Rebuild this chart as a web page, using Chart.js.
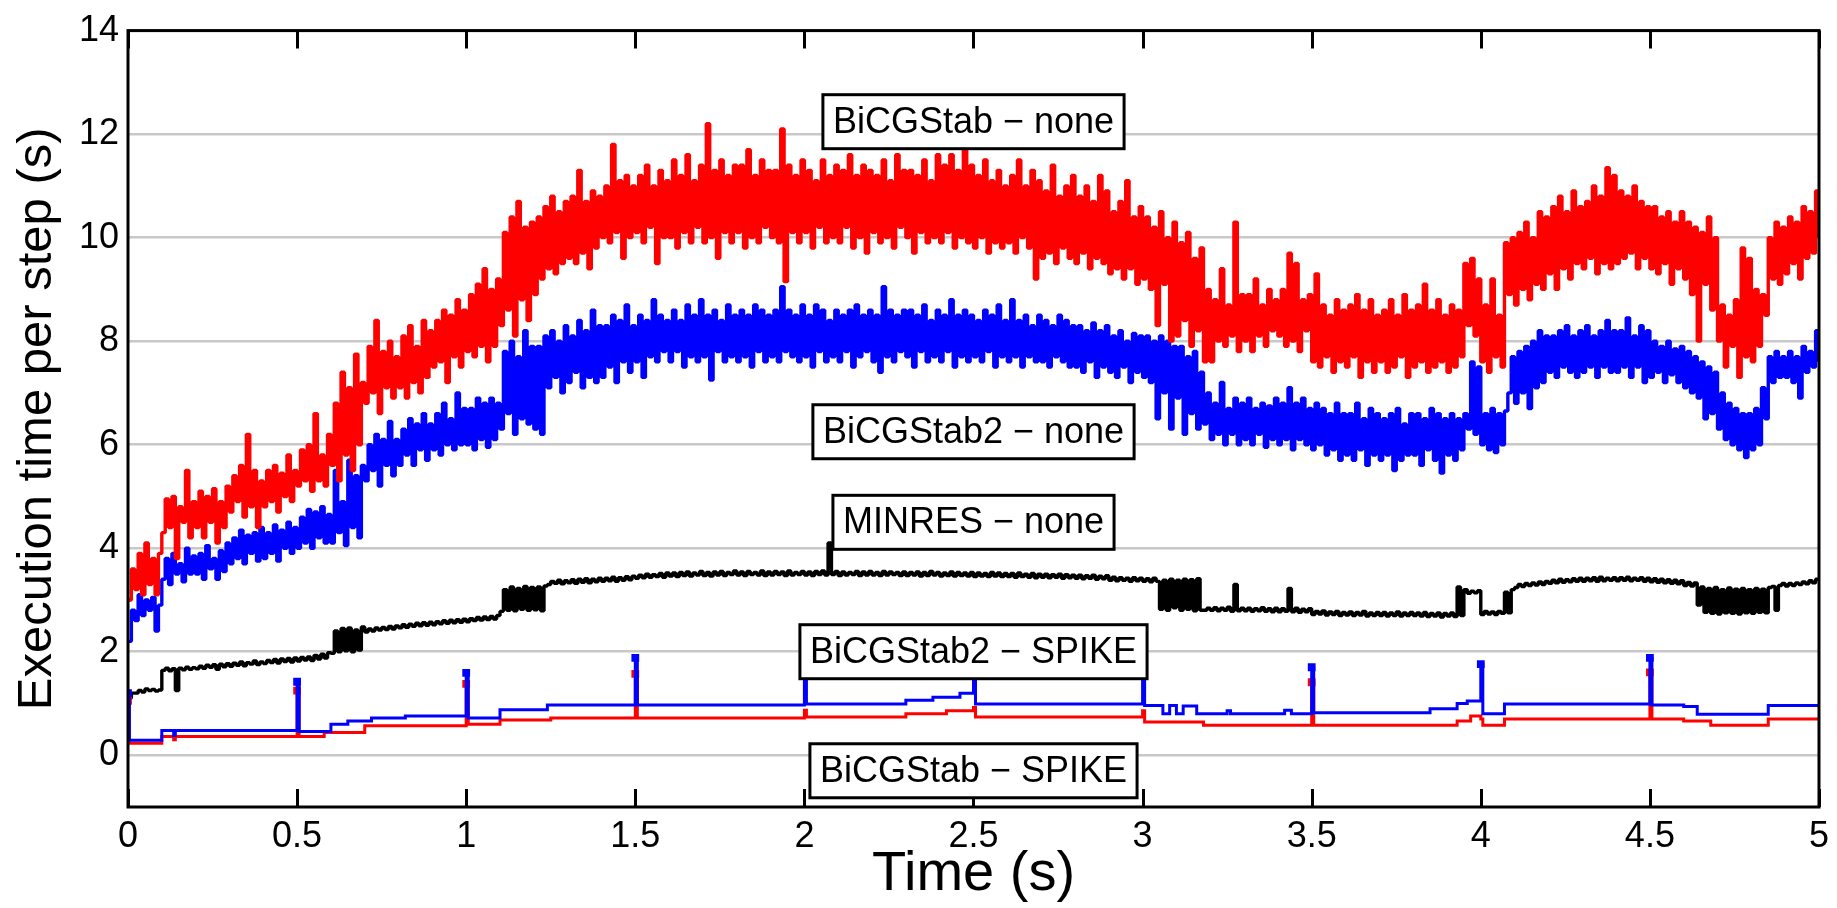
<!DOCTYPE html>
<html>
<head>
<meta charset="utf-8">
<script src="https://cdn.jsdelivr.net/npm/chart.js@4.4.1/dist/chart.umd.min.js"></script>
<style>
  html, body { margin: 0; padding: 0; background: #fff; }
  #wrap { width: 1837px; height: 908px; }
</style>
</head>
<body>
<div id="wrap"><canvas id="timing"></canvas></div>
<script>
// sample spacing of the "none" runs (s)
const DT = 0.01;

// BiCGStab - none : execution time per step (s)
const bicgNone = [
  3.0, 3.6, 3.2, 3.9, 3.1, 4.1, 3.3, 3.8, 3.1, 3.9,
  4.3, 4.95, 4.4, 5.0, 3.8, 4.8, 4.5, 5.5, 4.2, 4.9,
  4.4, 5.1, 4.2, 5.0, 4.5, 5.15, 4.1, 4.9, 4.4, 5.2,
  4.7, 5.4, 4.9, 5.6, 4.6, 6.2, 4.8, 5.5, 4.4, 5.3,
  4.8, 5.5, 4.9, 5.6, 4.7, 5.45, 5.0, 5.8, 4.9, 5.5,
  5.2, 5.9, 5.3, 6.0, 5.1, 6.6, 5.3, 5.8, 5.2, 6.2,
  5.6, 6.8, 5.3, 7.4, 5.8, 7.1, 5.5, 7.75, 6.0, 7.2,
  6.8, 7.9, 7.0, 8.4, 6.6, 7.8, 7.1, 8.0, 6.9, 7.7,
  7.1, 8.1, 6.9, 8.3, 7.2, 7.9, 7.0, 8.4, 7.3, 8.2,
  7.5, 8.4, 7.6, 8.6, 7.2, 8.5, 7.7, 8.8, 7.5, 8.6,
  7.8, 8.9, 7.7, 9.1, 7.9, 9.4, 7.6, 9.0, 7.9, 9.2,
  8.3, 10.1, 8.6, 10.4, 8.1, 10.7, 8.8, 10.2, 8.4, 10.3,
  8.9, 10.4, 9.2, 10.6, 9.4, 10.8, 9.3, 10.5, 9.5, 10.7,
  9.6, 10.8, 9.5, 11.3, 9.7, 10.7, 9.4, 10.9, 9.8, 10.8,
  10.0, 11.0, 9.9, 11.8, 10.1, 11.1, 9.6, 11.2, 10.0, 11.0,
  10.1, 11.2, 9.9, 11.4, 10.2, 11.0, 9.5, 11.3, 10.0, 11.1,
  10.0, 11.5, 9.8, 11.2, 10.1, 11.6, 9.9, 11.1, 10.2, 11.4,
  9.9, 12.2, 10.0, 11.3, 9.6, 11.5, 10.1, 11.2, 9.9, 11.4,
  10.1, 11.4, 9.8, 11.7, 10.0, 11.2, 9.9, 11.5, 10.2, 11.3,
  10.0, 11.3, 9.9, 12.1, 9.15, 11.4, 10.1, 11.2, 9.9, 11.5,
  10.1, 11.3, 9.8, 11.1, 10.2, 11.5, 9.9, 11.2, 10.0, 11.4,
  9.9, 11.3, 10.2, 11.6, 9.8, 11.2, 10.0, 11.4, 9.7, 11.3,
  10.1, 11.2, 9.9, 11.5, 10.0, 11.1, 9.8, 11.6, 10.2, 11.3,
  10.0, 11.3, 9.7, 11.2, 10.1, 11.5, 9.9, 11.1, 10.0, 11.6,
  9.9, 11.4, 10.1, 11.6, 9.8, 11.3, 10.0, 11.8, 9.9, 11.4,
  9.8, 11.2, 10.0, 11.5, 9.7, 11.1, 9.9, 11.3, 9.8, 11.0,
  9.9, 11.2, 9.7, 11.5, 10.0, 11.0, 9.8, 11.3, 9.2, 11.1,
  9.6, 10.9, 9.7, 11.4, 9.5, 10.8, 9.8, 11.0, 9.6, 11.2,
  9.5, 10.8, 9.7, 11.0, 9.4, 10.7, 9.6, 11.2, 9.5, 10.9,
  9.3, 10.5, 9.4, 10.7, 9.2, 11.1, 9.4, 10.4, 9.1, 10.6,
  9.2, 10.4, 9.0, 10.2, 8.3, 10.5, 9.1, 10.0, 8.0, 10.3,
  8.1, 9.9, 8.4, 10.1, 7.9, 9.6, 8.2, 9.8, 7.6, 9.0,
  7.6, 8.8, 8.0, 9.4, 7.9, 8.7, 8.1, 10.3, 7.8, 8.9,
  8.0, 8.9, 7.8, 9.2, 8.1, 8.7, 7.9, 9.0, 8.2, 8.8,
  8.1, 9.0, 7.9, 9.7, 8.0, 9.5, 7.8, 8.8, 8.2, 8.9,
  7.6, 9.3, 7.5, 8.7, 7.7, 8.5, 7.4, 8.8, 7.6, 8.6,
  7.5, 8.7, 7.7, 8.9, 7.3, 8.6, 7.6, 8.8, 7.4, 8.5,
  7.6, 8.6, 7.4, 8.8, 7.5, 8.5, 7.7, 8.9, 7.3, 8.6,
  7.5, 8.7, 7.6, 9.1, 7.4, 8.6, 7.5, 8.8, 7.6, 8.5,
  7.4, 8.7, 7.5, 8.6, 7.7, 9.5, 8.3, 9.6, 8.1, 9.2,
  7.6, 8.7, 7.4, 9.2, 7.7, 8.5, 7.5, 9.9, 8.9, 10.0,
  8.7, 10.1, 9.0, 10.3, 8.8, 10.0, 9.1, 10.5, 9.0, 10.4,
  9.3, 10.6, 9.0, 10.8, 9.4, 10.5, 9.2, 10.9, 9.5, 10.6,
  9.4, 10.7, 9.6, 11.0, 9.3, 10.8, 9.5, 11.35, 9.4, 11.2,
  9.5, 10.9, 9.6, 10.8, 9.7, 11.0, 9.4, 10.7, 9.6, 10.6,
  9.4, 10.6, 9.3, 10.4, 9.5, 10.5, 9.1, 10.3, 9.4, 10.5,
  9.2, 10.3, 8.9, 10.2, 8.0, 10.1, 9.1, 10.4, 8.6, 10.0,
  8.0, 8.7, 7.5, 8.5, 7.9, 8.8, 7.3, 9.8, 7.7, 9.6,
  7.6, 9.0, 7.9, 8.9, 8.5, 10.0, 9.2, 10.3, 9.1, 10.2,
  9.3, 10.4, 9.5, 10.3, 9.2, 10.6, 9.6, 10.5, 9.7, 10.9,
  10.0
];

// BiCGStab2 - none
const bicg2None = [
  2.2, 2.8, 2.6, 3.1, 2.7, 3.0, 2.8, 3.05, 2.4, 2.9,
  3.4, 3.8, 3.3, 3.9, 3.5, 3.7, 3.35, 4.0, 3.5, 3.85,
  3.5, 3.9, 3.4, 4.05, 3.6, 3.8, 3.4, 3.95, 3.55, 4.1,
  3.7, 4.2, 3.8, 4.35, 3.7, 4.25, 3.9, 4.3, 3.75, 4.4,
  3.8, 4.3, 3.9, 4.45, 3.75, 4.35, 4.0, 4.5, 3.9, 4.4,
  4.0, 4.6, 4.1, 4.75, 4.0, 4.7, 4.2, 4.8, 4.1, 4.65,
  4.1, 5.5, 4.3, 4.9, 4.05, 5.7, 4.4, 5.4, 4.2, 5.6,
  5.3, 6.0, 5.5, 6.2, 5.2, 6.1, 5.6, 6.45, 5.4, 6.1,
  5.6, 6.3, 5.8, 6.5, 5.6, 6.4, 5.9, 6.6, 5.7, 6.4,
  5.9, 6.6, 5.8, 6.8, 6.0, 6.5, 5.9, 7.0, 6.0, 6.7,
  6.0, 6.7, 5.9, 6.9, 6.1, 6.8, 5.95, 6.9, 6.1, 6.8,
  6.3, 7.8, 6.6, 8.0, 6.2, 7.7, 6.5, 8.2, 6.4, 7.9,
  6.3, 7.9, 6.2, 8.1, 7.1, 8.2, 7.3, 8.0, 7.0, 8.3,
  7.2, 8.1, 7.4, 8.4, 7.1, 8.2, 7.3, 8.6, 7.2, 8.3,
  7.3, 8.3, 7.5, 8.5, 7.2, 8.4, 7.6, 8.7, 7.4, 8.3,
  7.6, 8.5, 7.3, 8.4, 7.7, 8.8, 7.6, 8.5, 7.8, 8.4,
  7.6, 8.6, 7.8, 8.4, 7.5, 8.7, 7.7, 8.5, 7.6, 8.8,
  7.7, 8.5, 7.25, 8.6, 7.8, 8.4, 7.6, 8.7, 7.7, 8.5,
  7.6, 8.6, 7.7, 8.5, 7.5, 8.7, 7.8, 8.6, 7.6, 8.5,
  7.7, 8.6, 7.6, 9.05, 7.8, 8.6, 7.7, 8.5, 7.6, 8.7,
  7.7, 8.5, 7.5, 8.7, 7.8, 8.6, 7.6, 8.4, 7.7, 8.6,
  7.6, 8.5, 7.8, 8.6, 7.5, 8.7, 7.7, 8.5, 7.8, 8.6,
  7.6, 8.5, 7.4, 9.05, 7.7, 8.6, 7.6, 8.5, 7.8, 8.6,
  7.7, 8.6, 7.5, 8.5, 7.8, 8.7, 7.6, 8.4, 7.7, 8.6,
  7.6, 8.5, 7.8, 8.8, 7.5, 8.5, 7.7, 8.6, 7.6, 8.5,
  7.7, 8.4, 7.6, 8.6, 7.8, 8.5, 7.5, 8.7, 7.7, 8.4,
  7.6, 8.8, 7.7, 8.4, 7.5, 8.5, 7.7, 8.3, 7.6, 8.5,
  7.6, 8.4, 7.5, 8.3, 7.7, 8.5, 7.6, 8.4, 7.5, 8.3,
  7.5, 8.3, 7.4, 8.2, 7.6, 8.35, 7.3, 8.2, 7.5, 8.3,
  7.4, 8.1, 7.3, 8.2, 7.5, 8.0, 7.2, 8.15, 7.4, 8.1,
  7.3, 8.1, 7.2, 8.0, 6.5, 8.1, 7.0, 8.0, 6.3, 7.9,
  6.9, 7.9, 6.2, 7.7, 6.6, 7.8, 6.3, 7.4, 6.4, 7.0,
  6.1, 6.8, 6.2, 7.2, 6.0, 6.7, 6.2, 6.9, 6.0, 6.8,
  6.1, 6.9, 6.0, 6.7, 6.2, 6.8, 5.95, 6.75, 6.1, 6.9,
  6.0, 6.8, 6.1, 7.1, 5.9, 6.8, 6.1, 6.9, 6.0, 6.7,
  5.9, 6.8, 6.0, 6.7, 5.8, 6.6, 5.9, 6.8, 5.7, 6.6,
  5.8, 6.6, 5.7, 6.8, 5.9, 6.5, 5.6, 6.7, 5.8, 6.6,
  5.7, 6.5, 5.8, 6.6, 5.5, 6.7, 5.7, 6.4, 5.8, 6.6,
  5.8, 6.6, 5.6, 6.5, 5.9, 6.7, 5.7, 6.6, 5.45, 6.5,
  5.8, 6.6, 5.7, 6.5, 5.9, 6.6, 6.3, 7.6, 6.2, 7.5,
  6.0, 6.6, 5.9, 6.7, 5.85, 6.6, 6.0, 6.65, 7.0, 7.7,
  6.8, 7.8, 7.0, 7.9, 6.7, 8.0, 7.1, 8.2, 7.2, 8.1,
  7.4, 8.1, 7.3, 8.2, 7.5, 8.3, 7.4, 8.1, 7.3, 8.2,
  7.4, 8.3, 7.5, 8.1, 7.3, 8.2, 7.5, 8.4, 7.4, 8.2,
  7.4, 8.2, 7.5, 8.45, 7.3, 8.1, 7.5, 8.3, 7.2, 8.2,
  7.3, 8.0, 7.4, 7.9, 7.2, 8.0, 7.35, 7.85, 7.2, 7.9,
  7.1, 7.8, 7.0, 7.7, 6.9, 7.6, 6.5, 7.5, 6.6, 7.4,
  6.3, 7.0, 6.1, 6.8, 6.0, 6.7, 5.9, 6.6, 5.75, 6.6,
  5.9, 6.7, 6.0, 7.1, 6.5, 7.7, 7.2, 7.8, 7.3, 7.7,
  7.3, 7.8, 7.2, 7.7, 6.9, 7.9, 7.4, 7.8, 7.5, 8.2,
  7.6
];

// MINRES - none
const minresNone = [
  1.1, 1.2, 1.2, 1.25, 1.22, 1.28, 1.25, 1.27, 1.24, 1.26,
  1.64, 1.68, 1.63, 1.67, 1.25, 1.68, 1.65, 1.70, 1.66, 1.69,
  1.67, 1.72, 1.68, 1.74, 1.70, 1.75, 1.66, 1.76, 1.71, 1.77,
  1.72, 1.78, 1.74, 1.80, 1.73, 1.79, 1.76, 1.82, 1.75, 1.80,
  1.77, 1.83, 1.79, 1.85, 1.78, 1.86, 1.81, 1.87, 1.80, 1.88,
  1.82, 1.89, 1.84, 1.90, 1.83, 1.93, 1.86, 1.95, 1.88, 1.98,
  1.97, 2.40, 2.00, 2.45, 2.02, 2.46, 2.00, 2.42, 2.03, 2.48,
  2.38, 2.44, 2.40, 2.46, 2.42, 2.47, 2.43, 2.49, 2.44, 2.50,
  2.46, 2.52, 2.47, 2.53, 2.49, 2.55, 2.50, 2.56, 2.51, 2.57,
  2.52, 2.58, 2.54, 2.60, 2.55, 2.61, 2.56, 2.62, 2.57, 2.63,
  2.58, 2.64, 2.60, 2.66, 2.61, 2.67, 2.62, 2.68, 2.63, 2.70,
  2.78, 3.20, 2.80, 3.25, 2.79, 3.22, 2.82, 3.26, 2.80, 3.24,
  2.81, 3.25, 2.79, 3.27, 3.30, 3.36, 3.32, 3.38, 3.31, 3.37,
  3.33, 3.39, 3.32, 3.40, 3.34, 3.41, 3.33, 3.40, 3.35, 3.42,
  3.36, 3.42, 3.37, 3.44, 3.36, 3.43, 3.38, 3.45, 3.39, 3.46,
  3.42, 3.48, 3.43, 3.50, 3.44, 3.49, 3.45, 3.51, 3.44, 3.52,
  3.46, 3.52, 3.45, 3.53, 3.47, 3.54, 3.46, 3.52, 3.48, 3.55,
  3.47, 3.53, 3.46, 3.54, 3.48, 3.55, 3.47, 3.53, 3.49, 3.56,
  3.48, 3.54, 3.47, 3.55, 3.49, 3.53, 3.48, 3.56, 3.47, 3.54,
  3.48, 3.55, 3.49, 3.54, 3.47, 3.56, 3.48, 3.53, 3.49, 3.55,
  3.48, 3.54, 3.47, 3.55, 3.49, 3.56, 3.48, 4.10, 3.49, 3.55,
  3.47, 3.54, 3.48, 3.53, 3.49, 3.55, 3.47, 3.54, 3.48, 3.55,
  3.48, 3.53, 3.47, 3.55, 3.48, 3.54, 3.49, 3.53, 3.47, 3.54,
  3.47, 3.53, 3.48, 3.54, 3.46, 3.53, 3.47, 3.55, 3.48, 3.53,
  3.46, 3.52, 3.47, 3.54, 3.46, 3.53, 3.47, 3.52, 3.46, 3.53,
  3.45, 3.52, 3.46, 3.51, 3.45, 3.53, 3.46, 3.52, 3.45, 3.51,
  3.45, 3.51, 3.44, 3.52, 3.45, 3.50, 3.44, 3.51, 3.43, 3.50,
  3.44, 3.50, 3.43, 3.49, 3.44, 3.50, 3.42, 3.49, 3.43, 3.48,
  3.42, 3.48, 3.41, 3.47, 3.42, 3.48, 3.40, 3.46, 3.41, 3.47,
  3.38, 3.44, 3.37, 3.43, 3.38, 3.42, 3.36, 3.43, 3.37, 3.42,
  3.36, 3.41, 3.35, 3.42, 3.36, 2.82, 3.38, 2.80, 3.40, 2.85,
  3.38, 2.80, 3.40, 2.82, 3.39, 2.79, 3.41, 2.80, 2.80, 2.84,
  2.80, 2.85, 2.79, 2.84, 2.80, 2.86, 2.78, 3.30, 2.79, 2.84,
  2.79, 2.84, 2.78, 2.83, 2.79, 2.85, 2.78, 2.83, 2.77, 2.84,
  2.77, 2.83, 2.78, 3.22, 2.77, 2.84, 2.76, 2.82, 2.77, 2.83,
  2.72, 2.78, 2.73, 2.79, 2.71, 2.77, 2.72, 2.78, 2.70, 2.76,
  2.71, 2.77, 2.70, 2.76, 2.71, 2.78, 2.69, 2.75, 2.70, 2.76,
  2.70, 2.76, 2.69, 2.75, 2.70, 2.77, 2.69, 2.75, 2.70, 2.76,
  2.70, 2.75, 2.69, 2.76, 2.68, 2.74, 2.69, 2.75, 2.67, 2.74,
  2.69, 2.75, 2.68, 3.25, 2.70, 3.20, 3.13, 3.17, 3.14, 3.18,
  2.72, 2.78, 2.73, 2.77, 2.72, 2.78, 2.74, 3.15, 2.75, 3.20,
  3.24, 3.30, 3.26, 3.32, 3.28, 3.33, 3.29, 3.35, 3.30, 3.36,
  3.32, 3.38, 3.33, 3.40, 3.34, 3.39, 3.35, 3.41, 3.36, 3.42,
  3.36, 3.42, 3.37, 3.43, 3.36, 3.44, 3.37, 3.42, 3.38, 3.43,
  3.37, 3.43, 3.38, 3.44, 3.37, 3.42, 3.38, 3.43, 3.36, 3.42,
  3.35, 3.41, 3.34, 3.40, 3.33, 3.39, 3.32, 3.38, 3.31, 3.37,
  3.28, 3.34, 3.27, 3.33, 2.90, 3.25, 2.76, 3.22, 2.74, 3.24,
  2.73, 3.20, 2.75, 3.23, 2.74, 3.21, 2.73, 3.22, 2.75, 3.20,
  2.74, 3.22, 2.76, 3.21, 2.75, 3.24, 3.26, 2.80, 3.28, 3.32,
  3.27, 3.32, 3.28, 3.33, 3.30, 3.35, 3.31, 3.37, 3.33, 3.40,
  3.38
];

// SPIKE runs: times where the step value changes, and the new value
const bicg2SpikeT = [0, 0.004, 0.1, 0.135, 0.14, 0.5, 0.506, 0.6, 0.65, 0.72, 0.82,
  1.0, 1.006, 1.1, 1.24, 1.5, 1.506, 2.0, 2.006, 2.3, 2.38, 2.46, 2.5, 2.506,
  3.0, 3.006, 3.06, 3.08, 3.1, 3.12, 3.16, 3.25, 3.26, 3.42, 3.44, 3.5, 3.506,
  3.85, 3.93, 3.96, 4.0, 4.006, 4.07, 4.5, 4.506, 4.6, 4.64, 4.85, 5.0];
const bicg2SpikeV = [1.2, 0.29, 0.48, 0.38, 0.48, 1.42, 0.46, 0.6, 0.66, 0.72, 0.76,
  1.59, 0.72, 0.88, 0.97, 1.88, 0.97, 1.55, 0.99, 1.06, 1.12, 1.2, 1.45, 0.99,
  1.55, 0.96, 0.8, 0.96, 0.8, 0.95, 0.8, 0.86, 0.8, 0.87, 0.8, 1.7, 0.82,
  0.9, 1.0, 1.05, 1.76, 0.8, 0.99, 1.88, 0.97, 0.94, 0.79, 0.96, 0.99];

const bicgSpikeT = [0, 0.004, 0.1, 0.135, 0.14, 0.5, 0.506, 0.58, 0.7,
  1.0, 1.006, 1.1, 1.25, 1.5, 1.506, 2.0, 2.006, 2.3, 2.42, 2.5, 2.506,
  3.0, 3.006, 3.18, 3.5, 3.506, 3.93, 3.97, 4.0, 4.006, 4.07, 4.5, 4.506,
  4.6, 4.68, 4.85, 5.0];
const bicgSpikeV = [1.05, 0.23, 0.36, 0.3, 0.36, 1.25, 0.36, 0.44, 0.57,
  1.38, 0.6, 0.68, 0.72, 1.57, 0.72, 0.87, 0.74, 0.8, 0.86, 0.92, 0.74,
  0.86, 0.64, 0.58, 1.41, 0.58, 0.66, 0.76, 0.7, 0.58, 0.7, 1.6, 0.7,
  0.66, 0.58, 0.7, 0.7];

// boxed run names, placed at (time, value)
const runNames = ['BiCGStab \u2212 none', 'BiCGStab2 \u2212 none', 'MINRES \u2212 none',
  'BiCGStab2 \u2212 SPIKE', 'BiCGStab \u2212 SPIKE'];
const nameT = [2.5, 2.5, 2.5, 2.5, 2.5];
const nameV = [12.24, 6.25, 4.5, 2.0, -0.3];

const FONT = '"Liberation Sans", Arial, Helvetica, sans-serif';
Chart.defaults.font.family = FONT;
Chart.defaults.color = '#000';

function sampled(values) {
  return values.map((v, i) => ({ x: Math.round(i * DT * 1000) / 1000, y: v }));
}
function stepped(times, values) {
  return times.map((t, i) => ({ x: t, y: values[i] }));
}
// square cap on the top of each spike
function tipRadius(ctx) {
  const d = ctx.dataset.data;
  const i = ctx.dataIndex;
  const v = d[i].y;
  const prev = i > 0 ? d[i - 1].y : 0;
  const next = i < d.length - 1 ? d[i + 1].y : v;
  return (v - prev > 0.4 && v - next > 0.4) ? 5.5 : 0;
}

const frameAndNames = {
  id: 'frameAndNames',
  afterDatasetsDraw(chart) {
    const { ctx, chartArea: a, scales: { x, y } } = chart;
    ctx.save();
    ctx.strokeStyle = '#000';
    ctx.lineWidth = 3;
    // inward tick marks, bottom and top
    ctx.beginPath();
    x.ticks.forEach(t => {
      const px = Math.round(x.getPixelForValue(t.value)) + 0.5;
      ctx.moveTo(px, a.bottom);
      ctx.lineTo(px, a.bottom - 18);
      ctx.moveTo(px, a.top);
      ctx.lineTo(px, a.top + 18);
    });
    ctx.stroke();
    ctx.strokeRect(a.left, a.top, a.right - a.left, a.bottom - a.top);

    ctx.font = '36px ' + FONT;
    ctx.textAlign = 'center';
    ctx.textBaseline = 'middle';
    runNames.forEach((txt, i) => {
      const cx = x.getPixelForValue(nameT[i]);
      const cy = y.getPixelForValue(nameV[i]);
      const w = ctx.measureText(txt).width + 20;
      const h = 54;
      ctx.fillStyle = '#fff';
      ctx.fillRect(cx - w / 2, cy - h / 2, w, h);
      ctx.strokeRect(cx - w / 2, cy - h / 2, w, h);
      ctx.fillStyle = '#000';
      ctx.fillText(txt, cx, cy + 1);
    });
    ctx.restore();
  }
};

// dense per-step samples: each value held for one sample, so the strokes butt together
const noisy = { pointRadius: 0, borderWidth: 3.4, stepped: true, borderJoinStyle: 'bevel' };
const steps = { stepped: true, borderWidth: 3, pointStyle: 'rect', pointRadius: tipRadius, pointBorderWidth: 0 };

new Chart(document.getElementById('timing'), {
  type: 'line',
  data: {
    datasets: [
      Object.assign({ label: 'BiCGStab2 - none', data: sampled(bicg2None), borderColor: '#0000ff', order: 5 }, noisy),
      Object.assign({ label: 'BiCGStab - none', data: sampled(bicgNone), borderColor: '#ff0000', order: 4 }, noisy),
      Object.assign({ label: 'MINRES - none', data: sampled(minresNone), borderColor: '#000000', order: 3 }, noisy),
      Object.assign({ label: 'BiCGStab - SPIKE', data: stepped(bicgSpikeT, bicgSpikeV), borderColor: '#ff0000', backgroundColor: '#ff0000', order: 2 }, steps),
      Object.assign({ label: 'BiCGStab2 - SPIKE', data: stepped(bicg2SpikeT, bicg2SpikeV), borderColor: '#0000ff', backgroundColor: '#0000ff', order: 1 }, steps)
    ]
  },
  options: {
    responsive: true,
    maintainAspectRatio: false,
    animation: false,
    events: [],
    layout: { padding: { top: 22, right: 15, left: 0, bottom: 0 } },
    plugins: { legend: { display: false }, tooltip: { enabled: false } },
    scales: {
      x: {
        type: 'linear',
        min: 0,
        max: 5,
        afterFit: s => { s.height = 101; },
        grid: { display: false, drawTicks: false },
        border: { display: false },
        ticks: { stepSize: 0.5, padding: 8, font: { size: 36 }, maxRotation: 0,
                 callback: v => String(Math.round(v * 10) / 10) },
        title: { display: true, text: 'Time (s)', font: { size: 56 }, padding: { top: 0, bottom: 0 } }
      },
      y: {
        type: 'linear',
        min: -1,
        max: 14,
        afterFit: s => { s.width = 128; },
        afterBuildTicks: s => { s.ticks = s.ticks.filter(t => t.value >= 0); },
        grid: { color: '#c8c8c8', lineWidth: 2.5, drawTicks: false },
        border: { display: false },
        ticks: { stepSize: 2, padding: 9, font: { size: 36 } },
        title: { display: true, text: 'Execution time per step (s)', font: { size: 49 }, padding: { top: 8, bottom: 0 } }
      }
    }
  },
  plugins: [frameAndNames]
});
</script>
</body>
</html>
